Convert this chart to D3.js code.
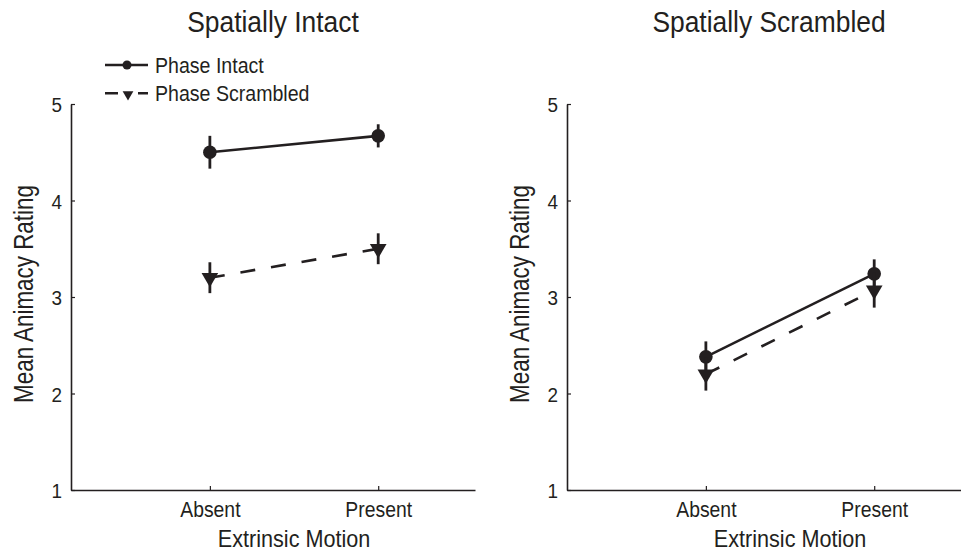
<!DOCTYPE html>
<html>
<head>
<meta charset="utf-8">
<script src="https://cdn.jsdelivr.net/npm/d3@7"></script>
<style>
  body { margin: 0; background: #fff; }
  svg text { font-family: "Liberation Sans", Arial, sans-serif; fill: #231f20; }
</style>
</head>
<body>
<div id="chart"></div>
<script>
// data
var conditions = ["Absent", "Present"];
var panelTitles = ["Spatially Intact", "Spatially Scrambled"];
var seriesNames = ["Phase Intact", "Phase Scrambled"];
var yTicks = [1, 2, 3, 4, 5];

// spatially intact panel
var intactMean_SI = [4.50, 4.67];
var intactErr_SI = [0.17, 0.12];
var scrambledMean_SI = [3.20, 3.50];
var scrambledErr_SI = [0.16, 0.16];

// spatially scrambled panel
var intactMean_SS = [2.38, 3.24];
var intactErr_SS = [0.16, 0.15];
var scrambledMean_SS = [2.20, 3.07];
var scrambledErr_SS = [0.17, 0.18];

var ink = "#231f20";
var W = 961, H = 552;
var plotW = 404;
var top_ = 104, bottom_ = 490;
var SX = 0.88; // squeeze text horizontally, the original uses a condensed face

var svg = d3.select("#chart").append("svg")
  .attr("width", W)
  .attr("height", H);

var x = d3.scaleLinear().domain([0.175, 2.575]).range([0, plotW]);
var y = d3.scaleLinear().domain([1, 5]).range([bottom_ - top_, 0]);

var triangle = d3.symbol().type(d3.symbolTriangle).size(120);
var triangleSmall = d3.symbol().type(d3.symbolTriangle).size(50);

function makeSeries(means, errs) {
  return means.map(function (m, i) {
    return { cond: i + 1, mean: m, err: errs[i] };
  });
}

// text placed at (tx,ty), squeezed by sx
function label(parent, tx, ty, str, size, sx, anchor) {
  return parent.append("text")
    .attr("transform", "translate(" + tx + "," + ty + ") scale(" + sx + ",1)")
    .attr("text-anchor", anchor || "middle")
    .style("font-size", size + "px")
    .text(str);
}

var panels = [
  { left: 71, title: panelTitles[0], legend: true,
    series: [makeSeries(intactMean_SI, intactErr_SI), makeSeries(scrambledMean_SI, scrambledErr_SI)] },
  { left: 567, title: panelTitles[1], legend: false,
    series: [makeSeries(intactMean_SS, intactErr_SS), makeSeries(scrambledMean_SS, scrambledErr_SS)] }
];

var line = d3.line()
  .x(function (d) { return x(d.cond); })
  .y(function (d) { return y(d.mean); });

panels.forEach(function (p) {
  var g = svg.append("g").attr("transform", "translate(" + p.left + "," + top_ + ")");

  // title
  label(g, plotW / 2, 31.5 - top_, p.title, 30, SX);

  // y axis
  var ya = g.append("g")
    .call(d3.axisLeft(y).tickValues(yTicks).tickFormat(d3.format("d")).tickSize(-4).tickSizeOuter(0).tickPadding(9 / 0.9));
  ya.selectAll("text").style("font-size", "21px").attr("dy", "0.37em").attr("transform", "scale(0.9,1)");

  // x axis
  var xa = g.append("g")
    .attr("transform", "translate(0," + (bottom_ - top_) + ")")
    .call(d3.axisBottom(x).tickValues([1, 2]).tickFormat(function (d) { return conditions[d - 1]; })
      .tickSize(-4).tickSizeOuter(0).tickPadding(11));
  xa.selectAll("text").style("font-size", "22px").attr("transform", "scale(" + SX + ",1)");

  g.selectAll(".domain").attr("stroke", ink).attr("stroke-width", 1.6);
  g.selectAll(".tick line").attr("stroke", ink).attr("stroke-width", 1.2);

  // axis titles
  label(g, 0, 0, "Mean Animacy Rating", 27, 0.83)
    .attr("transform", "translate(-38," + (294 - top_) + ") rotate(-90) scale(0.83,1)");

  label(g, (x(1) + x(2)) / 2, bottom_ - top_ + 57, "Extrinsic Motion", 23, 0.94);

  p.series.forEach(function (s, si) {
    // error bars
    g.selectAll(".err" + si)
      .data(s)
      .enter()
      .append("line")
      .attr("x1", function (d) { return x(d.cond); })
      .attr("x2", function (d) { return x(d.cond); })
      .attr("y1", function (d) { return y(d.mean + d.err); })
      .attr("y2", function (d) { return y(d.mean - d.err); })
      .attr("stroke", ink)
      .attr("stroke-width", 2.8);

    g.append("path")
      .datum(s)
      .attr("d", line)
      .attr("fill", "none")
      .attr("stroke", ink)
      .attr("stroke-width", 2.6)
      .attr("stroke-dasharray", si === 1 ? "15,16" : null);

    if (si === 0) {
      g.selectAll(".dot")
        .data(s)
        .enter()
        .append("circle")
        .attr("cx", function (d) { return x(d.cond); })
        .attr("cy", function (d) { return y(d.mean); })
        .attr("r", 6.8)
        .attr("fill", ink);
    } else {
      g.selectAll(".tri")
        .data(s)
        .enter()
        .append("path")
        .attr("d", triangle)
        .attr("transform", function (d) {
          return "translate(" + x(d.cond) + "," + y(d.mean) + ") rotate(180)";
        })
        .attr("fill", ink);
    }
  });

  if (p.legend) {
    var lg = svg.append("g").attr("transform", "translate(105,0)");
    var items = lg.selectAll(".legend-item")
      .data(seriesNames)
      .enter()
      .append("g")
      .attr("class", "legend-item")
      .attr("transform", function (d, i) { return "translate(0," + (65 + i * 28.3) + ")"; });

    items.append("line")
      .attr("x1", 0).attr("x2", 43)
      .attr("stroke", ink)
      .attr("stroke-width", 2.6)
      .attr("stroke-dasharray", function (d, i) { return i === 1 ? "13,20,10" : null; });

    items.each(function (d, i) {
      if (i === 0) {
        d3.select(this).append("circle").attr("cx", 22).attr("r", 4.5).attr("fill", ink);
      } else {
        d3.select(this).append("path").attr("d", triangleSmall)
          .attr("transform", "translate(23,1) rotate(180)").attr("fill", ink);
      }
    });

    items.append("text")
      .attr("transform", "translate(50,0) scale(0.89,1)")
      .attr("dy", "0.35em")
      .style("font-size", "22px")
      .text(function (d) { return d; });
  }
});
</script>
</body>
</html>
